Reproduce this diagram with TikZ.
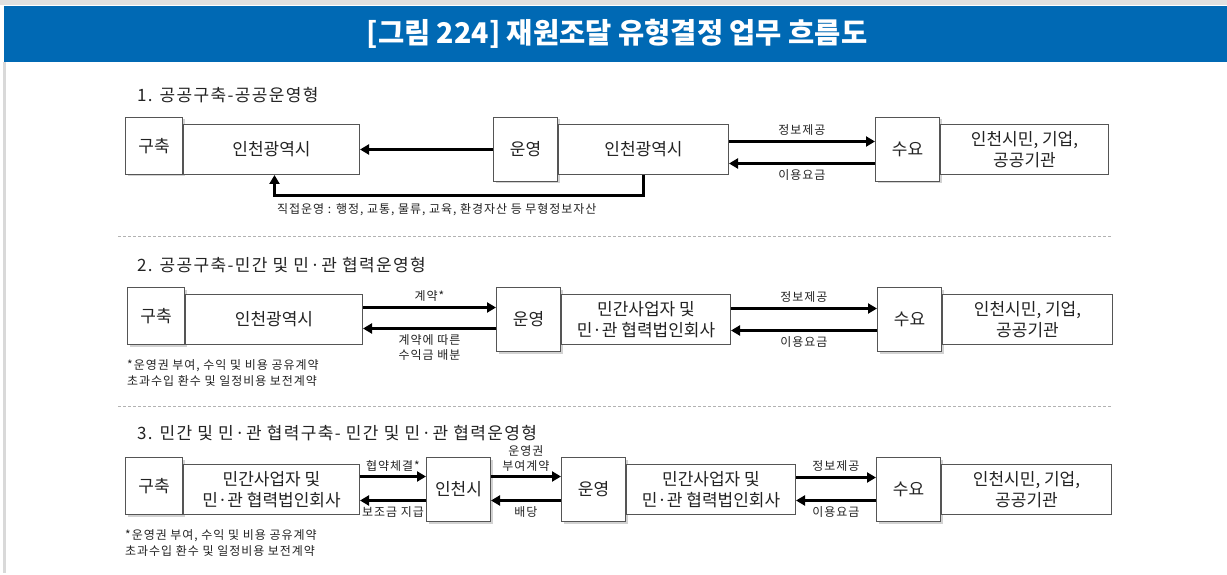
\documentclass[tikz,border=0pt]{standalone}
\usepackage{fontspec}
\setmainfont{Noto Sans CJK KR}
\newfontfamily\spacedfamily{Noto Sans CJK KR}[LetterSpace=8]
\usepackage{tikz}
\usetikzlibrary{arrows.meta,positioning,calc,shadows}

\definecolor{titleblue}{RGB}{0,105,180}
\definecolor{boxgray}{RGB}{85,85,85}
\definecolor{txtgray}{RGB}{35,35,35}

\newcommand{\ttlfont}{\fontsize{28.5}{32}\selectfont\bfseries}
\newcommand{\secfont}{\spacedfamily\fontsize{17}{20}\selectfont}
\newcommand{\bxfont}{\fontsize{17}{21}\selectfont}
\newcommand{\lblfont}{\spacedfamily\fontsize{12}{14.5}\selectfont}
\newcommand{\notefont}{\spacedfamily\fontsize{12}{16}\selectfont}

\tikzset{
  sq/.style={draw=boxgray, line width=1pt, fill=white, minimum width=64pt, minimum height=64pt,
    inner sep=0pt, font=\bxfont, text=txtgray,
    drop shadow={shadow xshift=2pt, shadow yshift=-2pt, fill=black!35, opacity=0.5}},
  sqs/.style={sq, minimum width=57pt, minimum height=57pt},
  body/.style={draw=boxgray, line width=1pt, fill=white, minimum height=50pt, inner sep=0pt,
    font=\bxfont, text=txtgray, align=center, anchor=west},
  flow/.style={line width=3pt, -{Triangle[length=9pt,width=10pt]}},
  lbl/.style={font=\lblfont, text=txtgray, inner sep=0pt, align=center},
  sec/.style={font=\secfont, text=txtgray, anchor=west, inner sep=0pt},
  note/.style={font=\notefont, text=txtgray, align=left, inner sep=0pt},
  sep/.style={black!30, line width=0.8pt, dash pattern=on 3pt off 2pt}
}

\begin{document}
\begin{tikzpicture}[x=1pt,y=-1pt]
  \useasboundingbox (0,0) rectangle (1227,575);
  \fill[white] (0,0) rectangle (1227,575);
  \fill[black!12] (0,0) rectangle (1227,5);
  \fill[titleblue] (4,6) rectangle (1227,62);
  \fill[black!15] (3,62) rectangle (6,573);
  \node[font=\ttlfont, text=white] (ttl) at (617,34) {[그림 224] 재원조달 유형결정 업무 흐름도};

  \node[sec] (t1) at (137,95) {1. 공공구축-공공운영형};
  \node[sqs, anchor=north west] (gc1) at (125,117) {구축};
  \node[body, anchor=south west, minimum width=176pt] (gb1) at (gc1.south east) {인천광역시};
  \node[sq, anchor=north west] (op1) at (493,117) {운영};
  \node[body, minimum width=170pt] (ob1) at (op1.east) {인천광역시};
  \node[sq, anchor=north west] (dm1) at (875,117) {수요};
  \node[body, minimum width=168pt] (db1) at (dm1.east) {인천시민, 기업,\\공공기관};
  \draw[flow] (op1.west) -- (gb1.east);
  \draw[flow] ([yshift=8pt]ob1.east) -- node[lbl, above=5pt]{정보제공} ([yshift=8pt]dm1.west);
  \draw[flow] ([yshift=-14pt]dm1.west) -- node[lbl, below=5pt]{이용요금} ([yshift=-14pt]ob1.east);
  \draw[flow] (ob1.south) -- ++(0pt,-21pt) -| node[lbl, pos=0.28, below=6pt]{직접운영 : 행정, 교통, 물류, 교육, 환경자산 등 무형정보자산} ([xshift=3pt]gb1.south);

  \draw[sep] (118,236) -- (1112,236);

  \node[sec] (t2) at (137,265) {2. 공공구축-민간 및 민·관 협력운영형};
  \node[sqs, anchor=north west] (gc2) at (127,287) {구축};
  \node[body, anchor=south west, minimum width=177pt] (gb2) at (gc2.south east) {인천광역시};
  \node[sq, anchor=north west] (op2) at (496,287) {운영};
  \node[body, minimum width=169pt] (ob2) at (op2.east) {민간사업자 및\\민·관 협력법인회사};
  \node[sq, anchor=north west] (dm2) at (877,287) {수요};
  \node[body, minimum width=170pt] (db2) at (dm2.east) {인천시민, 기업,\\공공기관};
  \draw[flow] ([yshift=12pt]gb2.east) -- node[lbl, above=5pt]{계약*} ([yshift=12pt]op2.west);
  \draw[flow] ([yshift=-9pt]op2.west) -- node[lbl, below=5pt]{계약에 따른\\수익금 배분} ([yshift=-9pt]gb2.east);
  \draw[flow] ([yshift=11pt]ob2.east) -- node[lbl, above=5pt]{정보제공} ([yshift=11pt]dm2.west);
  \draw[flow] ([yshift=-11pt]dm2.west) -- node[lbl, below=5pt]{이용요금} ([yshift=-11pt]ob2.east);
  \node[note, below=14pt of gc2.south west, anchor=north west] (nt2) {*운영권 부여, 수익 및 비용 공유계약\\초과수입 환수 및 일정비용 보전계약};

  \draw[sep] (118,406) -- (1112,406);

  \node[sec] (t3) at (137,433) {3. 민간 및 민·관 협력구축- 민간 및 민·관 협력운영형};
  \node[sqs, anchor=north west] (gc3) at (125,457) {구축};
  \node[body, anchor=south west, minimum width=176pt] (gb3) at (gc3.south east) {민간사업자 및\\민·관 협력법인회사};
  \node[sq, anchor=north west] (ic3) at (426,457) {인천시};
  \node[sq, anchor=north west] (op3) at (561,457) {운영};
  \node[body, minimum width=169pt] (ob3) at (op3.east) {민간사업자 및\\민·관 협력법인회사};
  \node[sq, anchor=north west] (dm3) at (876,457) {수요};
  \node[body, minimum width=170pt] (db3) at (dm3.east) {인천시민, 기업,\\공공기관};
  \draw[flow] ([yshift=13pt]gb3.east) -- node[lbl, above=4pt]{협약체결*} ([yshift=13pt]ic3.west);
  \draw[flow] ([yshift=-11pt]ic3.west) -- node[lbl, below=5pt]{보조금 지급} ([yshift=-11pt]gb3.east);
  \draw[flow] ([yshift=13pt]ic3.east) -- node[lbl, above=4pt]{운영권\\부여계약} ([yshift=13pt]op3.west);
  \draw[flow] ([yshift=-11pt]op3.west) -- node[lbl, below=5pt]{배당} ([yshift=-11pt]ic3.east);
  \draw[flow] ([yshift=12pt]ob3.east) -- node[lbl, above=5pt]{정보제공} ([yshift=12pt]dm3.west);
  \draw[flow] ([yshift=-11pt]dm3.west) -- node[lbl, below=5pt]{이용요금} ([yshift=-11pt]ob3.east);
  \node[note, below=14pt of gc3.south west, anchor=north west] (nt3) {*운영권 부여, 수익 및 비용 공유계약\\초과수입 환수 및 일정비용 보전계약};
\end{tikzpicture}
\end{document}
